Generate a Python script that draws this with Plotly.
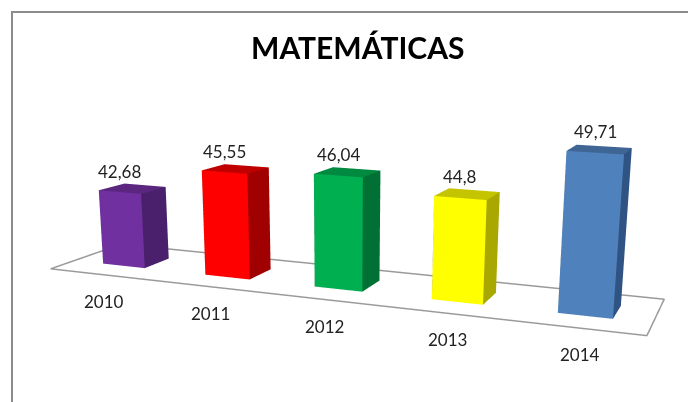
import plotly.graph_objects as go

YEARS = ["2010", "2011", "2012", "2013", "2014"]
VALUES = [42.68, 45.55, 46.04, 44.8, 49.71]
LABELS = ["42,68", "45,55", "46,04", "44,8", "49,71"]
FRONT = ["#7030A0", "#FF0000", "#00B050", "#FFFF00", "#4F81BD"]
SIDE = ["#4A1F6B", "#A00000", "#007034", "#A8A800", "#2F5383"]
TOP = ["#5A2680", "#C00000", "#008A40", "#C4C400", "#3F6594"]
TITLE = "MATEMÁTICAS"

BASE = 34.9      # value at the floor of the truncated axis
ZK = 19.86       # value units per scene unit

# oblique chart frame: category step, bar depth
O = (-0.028, 0.0, 0.0)
T = (0.5676, -0.0888, -0.036)
G = (0.091, 0.1, 0.027)
BAR_W = 0.415
FLOOR_T = 2.5
FLOOR_S = (-0.86, 1.86)


def pt(t, s, v):
    """category position t, depth s, value v -> scene data coordinates"""
    return (O[0] + T[0] * t + G[0] * s,
            O[1] + T[1] * t + G[1] * s,
            v + (T[2] * t + G[2] * s) * ZK)


fig = go.Figure()

# floor outline
corners = [(-FLOOR_T, FLOOR_S[0]), (FLOOR_T, FLOOR_S[0]), (FLOOR_T, FLOOR_S[1]), (-FLOOR_T, FLOOR_S[1]), (-FLOOR_T, FLOOR_S[0])]
pts = [pt(t, s, BASE) for t, s in corners]
fig.add_trace(go.Scatter3d(x=[p[0] for p in pts], y=[p[1] for p in pts], z=[p[2] for p in pts], mode="lines",
                           line=dict(color="#9a9a9a", width=3), hoverinfo="skip"))

for n, v in enumerate(VALUES):
    t = n - 2
    verts = []
    for z in (BASE, v):
        for (a, s) in [(t - BAR_W / 2, 0), (t + BAR_W / 2, 0), (t + BAR_W / 2, 1), (t - BAR_W / 2, 1)]:
            verts.append(pt(a, s, z))
    #    front     right     top       left      back      bottom
    I = [0, 0, 1, 1, 4, 4, 3, 3, 2, 2, 0, 0]
    J = [1, 5, 2, 6, 5, 6, 0, 4, 3, 7, 1, 2]
    K = [5, 4, 6, 5, 6, 7, 4, 7, 7, 6, 2, 3]
    fc = [FRONT[n]] * 2 + [SIDE[n]] * 2 + [TOP[n]] * 2 + [SIDE[n]] * 6
    fig.add_trace(go.Mesh3d(x=[p[0] for p in verts], y=[p[1] for p in verts], z=[p[2] for p in verts],
                            i=I, j=J, k=K, facecolor=fc, flatshading=True,
                            name=YEARS[n], hoverinfo="skip",
                            lighting=dict(ambient=1, diffuse=0, specular=0, fresnel=0)))

annotations = []
for n, v in enumerate(VALUES):
    t = n - 2
    p = pt(t, 0, v)
    annotations.append(dict(x=p[0], y=p[1], z=p[2], text=LABELS[n], showarrow=False, yshift=21,
                            font=dict(family="Lato", size=17, color="#222222")))
    p = pt(t, FLOOR_S[0], BASE)
    annotations.append(dict(x=p[0], y=p[1], z=p[2], text=YEARS[n], showarrow=False, xshift=3, yshift=-27,
                            font=dict(family="Lato", size=17, color="#222222")))

fig.update_layout(
    width=688, height=402, margin=dict(l=0, r=0, t=0, b=0), paper_bgcolor="white",
    showlegend=False,
    title=dict(text="<b>" + TITLE + "</b>", x=0.52, xanchor="center", y=0.88, yanchor="middle",
               font=dict(family="Lato", size=30, color="black")),
    scene=dict(
        domain=dict(x=[0, 1], y=[0, 1]),
        aspectmode="manual", aspectratio=dict(x=4, y=2, z=2),
        xaxis=dict(visible=False, range=[-2, 2]),
        yaxis=dict(visible=False, range=[-1, 1]),
        zaxis=dict(visible=False, range=[BASE - ZK, BASE + ZK]),
        annotations=annotations,
        camera=dict(eye=dict(x=0, y=-2.328, z=0.713), center=dict(x=0, y=-0.0175, z=0.44),
                    up=dict(x=0, y=0, z=1), projection=dict(type="perspective")),
    ),
    shapes=[dict(type="rect", xref="paper", yref="paper", x0=12 / 688, x1=1.02, y0=-0.02, y1=1 - 12 / 402,
                 line=dict(color="#8c8c8c", width=2), fillcolor="rgba(0,0,0,0)", layer="above")],
)
fig.write_html("out.html", post_script="document.body.style.margin='0';", config={"displayModeBar": False})
